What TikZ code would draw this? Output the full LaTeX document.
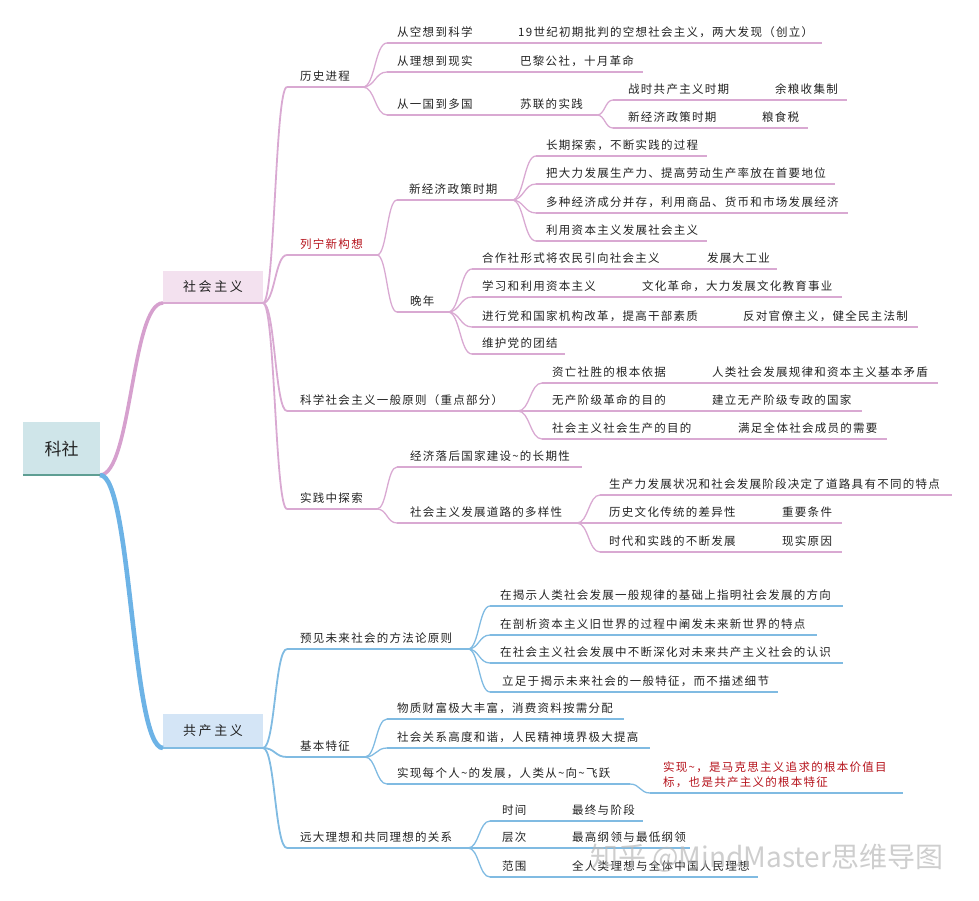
\documentclass[tikz,border=0pt]{standalone}
\usepackage{fontspec}
\setmainfont{Noto Sans CJK SC}
\newfontfamily\cjk[LetterSpace=11]{Noto Sans CJK SC}
\newfontfamily\cjkbox[LetterSpace=20]{Noto Sans CJK SC}
\newfontfamily\cjkwm{Noto Sans CJK SC}
\usetikzlibrary{calc}
\definecolor{pk}{HTML}{D9A9D2}
\definecolor{pkthick}{HTML}{D6A0CE}
\definecolor{pkfill}{HTML}{F3E1EF}
\definecolor{bl}{HTML}{80BBE2}
\definecolor{blthick}{HTML}{6DB3E6}
\definecolor{blfill}{HTML}{D4E5F6}
\definecolor{tealfill}{HTML}{CFE5E9}
\definecolor{tealline}{HTML}{5E9E93}
\definecolor{txtc}{HTML}{222222}
\definecolor{rednote}{HTML}{B5121B}
\newcommand\mtopic[7][]{%
  \coordinate (#2-s) at (#3,#4);
  \coordinate (#2-e) at (#5,#4);
  \draw[ul] (#2-s) -- (#2-e);
  \node[tx,#1] (#2) at ({#6},{#4-10.5}) {#7};
}
\newcommand\mlink[3][ul]{\draw[#1] (#2-e) to[br] (#3-s);}
\begin{document}
\begin{tikzpicture}[x=1pt,y=-1pt,
  tx/.style={font=\cjk\fontsize{11.5}{13}\selectfont,inner sep=0pt,anchor=west,text=txtc},
  br/.style={to path={let \p1=(\tikztostart), \p2=(\tikztotarget), \n1={0.5*(\x2-\x1)} in .. controls +(\n1,0) and +(-\n1,0) .. (\tikztotarget)}},
  boxlab/.style={font=\cjkbox\fontsize{13}{15}\selectfont,text=txtc,inner sep=0pt,minimum width=100pt},
  wm/.style={font=\cjkwm\fontsize{28}{30}\selectfont,text=gray!55,opacity=0.7,inner sep=0pt,anchor=west}
]
\useasboundingbox (0,0) rectangle (979,900);

% root
\node[fill=tealfill,minimum width=77pt,minimum height=53pt,inner sep=0pt,font=\cjkwm\fontsize{17}{19}\selectfont,text=txtc] (root) at (61.5,448.5) {科社};
\coordinate (root-e) at (100,475);

% level 1 boxes
\node[boxlab,fill=pkfill,minimum height=32pt] (soc) at (213,287) {社会主义};
\coordinate (soc-s) at (163,303);
\coordinate (soc-e) at (263,303);
\node[boxlab,fill=blfill,minimum height=34pt] (com) at (213,731) {共产主义};
\coordinate (com-s) at (163,748);
\coordinate (com-e) at (263,748);

\draw[pkthick,line width=3.6] (root-e) to[br] (soc-s);
\draw[blthick,line width=4.6] (root-e) to[br] (com-s);
\draw[tealline,line width=1.6] (root.south west) -- (root.south east);
\draw[pk,line width=2.4] (soc-s) -- (soc-e);
\draw[bl,line width=2.4] (com-s) -- (com-e);

% ---------- socialism subtree ----------
\tikzset{ul/.style={draw=pk,line width=1.3},ul1/.style={draw=pk,line width=1.8}}
\mtopic{hist}{287}{87}{363}{300}{历史进程}
\mtopic{kx1}{387}{43}{500}{397}{从空想到科学}
\mtopic{kx1a}{510}{43}{822}{518}{19世纪初期批判的空想社会主义，两大发现（创立）}
\mtopic{kx2}{387}{72}{500}{397}{从理想到现实}
\mtopic{kx2a}{510}{72}{643}{520}{巴黎公社，十月革命}
\mtopic{kx3}{387}{115}{500}{397}{从一国到多国}
\mtopic{kx3a}{510}{115}{597}{520}{苏联的实践}
\mtopic{sl1}{613}{100}{755}{628}{战时共产主义时期}
\mtopic{sl1a}{765}{100}{847}{775}{余粮收集制}
\mtopic{sl2}{613}{128}{742}{628}{新经济政策时期}
\mtopic{sl2a}{752}{128}{808}{762}{粮食税}

\mtopic[text=rednote]{lenin}{287}{255}{377}{300}{列宁新构想}
\mtopic{nep}{397}{200}{512}{409}{新经济政策时期}
\mtopic{nep1}{536}{156}{707}{546}{长期探索，不断实践的过程}
\mtopic{nep2}{536}{184}{835}{546}{把大力发展生产力、提高劳动生产率放在首要地位}
\mtopic{nep3}{536}{213}{848}{546}{多种经济成分并存，利用商品、货币和市场发展经济}
\mtopic{nep4}{536}{241}{707}{546}{利用资本主义发展社会主义}
\mtopic{wn}{397}{312}{448}{410}{晚年}
\mtopic{wn1}{472}{269}{680}{482}{合作社形式将农民引向社会主义}
\mtopic{wn1a}{697}{269}{777}{707}{发展大工业}
\mtopic{wn2}{472}{297}{615}{482}{学习和利用资本主义}
\mtopic{wn2a}{632}{297}{842}{642}{文化革命，大力发展文化教育事业}
\mtopic{wn3}{472}{327}{715}{482}{进行党和国家机构改革，提高干部素质}
\mtopic{wn3a}{733}{327}{918}{743}{反对官僚主义，健全民主法制}
\mtopic{wn4}{472}{354}{565}{482}{维护党的团结}

\mtopic{prin}{287}{411}{518}{300}{科学社会主义一般原则（重点部分）}
\mtopic{pr1}{542}{383}{690}{552}{资亡社胜的根本依据}
\mtopic{pr1a}{702}{383}{938}{712}{人类社会发展规律和资本主义基本矛盾}
\mtopic{pr2}{542}{411}{690}{552}{无产阶级革命的目的}
\mtopic{pr2a}{702}{411}{862}{712}{建立无产阶级专政的国家}
\mtopic{pr3}{542}{439}{715}{552}{社会主义社会生产的目的}
\mtopic{pr3a}{728}{439}{887}{738}{满足全体社会成员的需要}

\mtopic{prac}{287}{509}{377}{300}{实践中探索}
\mtopic{pc1}{397}{467}{582}{410}{经济落后国家建设\textasciitilde 的长期性}
\mtopic{pc2}{397}{523}{577}{410}{社会主义发展道路的多样性}
\mtopic{pc21}{600}{495}{952}{609}{生产力发展状况和社会发展阶段决定了道路具有不同的特点}
\mtopic{pc22}{600}{523}{765}{609}{历史文化传统的差异性}
\mtopic{pc22a}{772}{523}{842}{782}{重要条件}
\mtopic{pc23}{600}{552}{765}{609}{时代和实践的不断发展}
\mtopic{pc23a}{772}{552}{842}{782}{现实原因}

\mlink[ul1]{soc}{hist}\mlink[ul1]{soc}{lenin}\mlink[ul1]{soc}{prin}\mlink[ul1]{soc}{prac}
\mlink{hist}{kx1}\mlink{hist}{kx2}\mlink{hist}{kx3}
\mlink{kx1}{kx1a}\mlink{kx2}{kx2a}\mlink{kx3}{kx3a}
\mlink{kx3a}{sl1}\mlink{kx3a}{sl2}\mlink{sl1}{sl1a}\mlink{sl2}{sl2a}
\mlink{lenin}{nep}\mlink{lenin}{wn}
\mlink{nep}{nep1}\mlink{nep}{nep2}\mlink{nep}{nep3}\mlink{nep}{nep4}
\mlink{wn}{wn1}\mlink{wn}{wn2}\mlink{wn}{wn3}\mlink{wn}{wn4}
\mlink{wn1}{wn1a}\mlink{wn2}{wn2a}\mlink{wn3}{wn3a}
\mlink{prin}{pr1}\mlink{prin}{pr2}\mlink{prin}{pr3}
\mlink{pr1}{pr1a}\mlink{pr2}{pr2a}\mlink{pr3}{pr3a}
\mlink{prac}{pc1}\mlink{prac}{pc2}
\mlink{pc2}{pc21}\mlink{pc2}{pc22}\mlink{pc2}{pc23}
\mlink{pc22}{pc22a}\mlink{pc23}{pc23a}

% ---------- communism subtree ----------
\tikzset{ul/.style={draw=bl,line width=1.3},ul1/.style={draw=bl,line width=1.8}}
\mtopic{yj}{287}{649}{468}{300}{预见未来社会的方法论原则}
\mtopic{yj1}{490}{606}{843}{500}{在揭示人类社会发展一般规律的基础上指明社会发展的方向}
\mtopic{yj2}{490}{635}{817}{500}{在剖析资本主义旧世界的过程中阐发未来新世界的特点}
\mtopic{yj3}{490}{663}{843}{500}{在社会主义社会发展中不断深化对未来共产主义社会的认识}
\mtopic{yj4}{490}{692}{778}{502}{立足于揭示未来社会的一般特征，而不描述细节}
\mtopic{jb}{287}{757}{365}{300}{基本特征}
\mtopic{jb1}{387}{719}{624}{397}{物质财富极大丰富，消费资料按需分配}
\mtopic{jb2}{387}{748}{650}{397}{社会关系高度和谐，人民精神境界极大提高}
\mtopic{jb3}{387}{784}{630}{397}{实现每个人\textasciitilde 的发展，人类从\textasciitilde 向\textasciitilde 飞跃}
\coordinate (jb3a-s) at (650,793);
\coordinate (jb3a-e) at (903,793);
\draw[ul] (jb3a-s) -- (jb3a-e);
\node[tx,text=rednote,align=left,font=\cjk\fontsize{11.5}{15}\selectfont] (jb3a) at (663,774.5) {实现\textasciitilde ，是马克思主义追求的根本价值目\\标，也是共产主义的根本特征};
\mtopic{yd}{287}{848}{468}{300}{远大理想和共同理想的关系}
\mtopic{yd1}{490}{821}{555}{502}{时间}
\mtopic{yd1a}{562}{821}{643}{572}{最终与阶段}
\mtopic{yd2}{490}{848}{555}{502}{层次}
\mtopic{yd2a}{562}{848}{690}{572}{最高纲领与最低纲领}
\mtopic{yd3}{490}{877}{555}{502}{范围}
\mtopic{yd3a}{562}{877}{758}{572}{全人类理想与全体中国人民理想}

\mlink[ul1]{com}{yj}\mlink[ul1]{com}{jb}\mlink[ul1]{com}{yd}
\mlink{yj}{yj1}\mlink{yj}{yj2}\mlink{yj}{yj3}\mlink{yj}{yj4}
\mlink{jb}{jb1}\mlink{jb}{jb2}\mlink{jb}{jb3}\mlink{jb3}{jb3a}
\mlink{yd}{yd1}\mlink{yd}{yd2}\mlink{yd}{yd3}
\mlink{yd1}{yd1a}\mlink{yd2}{yd2a}\mlink{yd3}{yd3a}

% watermark
\node[wm] (wm) at (590,858) {知乎 @MindMaster思维导图};
\end{tikzpicture}
\end{document}
